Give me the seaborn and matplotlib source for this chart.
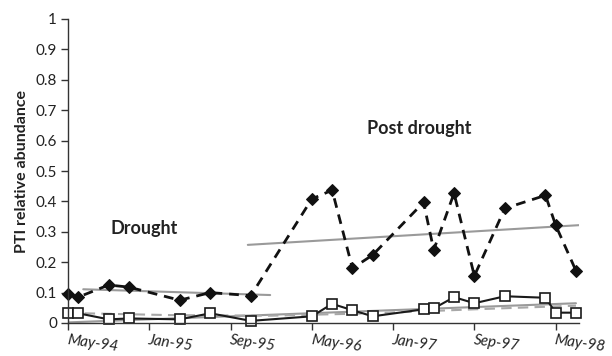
import matplotlib
matplotlib.use("Agg")
import matplotlib.pyplot as plt
import seaborn as sns
import pandas as pd
import numpy as np

# ---- data (months since May-94) ----
months = [0, 1, 4, 6, 11, 14, 18, 24, 26, 28, 30, 35, 36, 38, 40, 43, 47, 48, 50]
pti_diamond = [0.095, 0.085, 0.125, 0.118, 0.075, 0.100, 0.090, 0.408, 0.437, 0.180,
               0.224, 0.397, 0.240, 0.427, 0.155, 0.377, 0.420, 0.322, 0.172]
pti_square = [0.033, 0.032, 0.012, 0.015, 0.012, 0.032, 0.007, 0.022, 0.063, 0.042,
              0.022, 0.045, 0.048, 0.085, 0.065, 0.088, 0.083, 0.034, 0.034]

# trend lines
trend_drought_x = [1.5, 19.9]
trend_drought_y = [0.111, 0.092]
trend_post_x = [17.7, 50.4]
trend_post_y = [0.257, 0.322]
trend_sq_x = [0, 50]
trend_sq_y = [0.002, 0.065]
trend_sq2_x = [0, 10, 20, 30, 40, 50]
trend_sq2_y = [0.033, 0.026, 0.024, 0.032, 0.045, 0.057]

tick_months = [0, 8, 16, 24, 32, 40, 48]
tick_labels = ["May-94", "Jan-95", "Sep-95", "May-96", "Jan-97", "Sep-97", "May-98"]
y_ticks = [0, 0.1, 0.2, 0.3, 0.4, 0.5, 0.6, 0.7, 0.8, 0.9, 1]

sns.set_style("white")
plt.rcParams['font.family'] = ['Lato', 'DejaVu Sans']

fig = plt.figure(figsize=(6.12, 3.56), dpi=100)
ax = fig.add_axes([68/612, 1-323/356, (579-68)/612, (323-19)/356])

df = pd.DataFrame({"month": months, "diamond": pti_diamond, "square": pti_square})

# trend lines
sns.lineplot(x=trend_sq_x, y=trend_sq_y, ax=ax, color="#9a9a9a", lw=1.5)
sns.lineplot(x=trend_sq2_x, y=trend_sq2_y, ax=ax, color="#a8a8a8", lw=1.5,
             linestyle=(0, (5, 3)))
sns.lineplot(x=trend_drought_x, y=trend_drought_y, ax=ax, color="#9a9a9a", lw=1.5)
sns.lineplot(x=trend_post_x, y=trend_post_y, ax=ax, color="#9a9a9a", lw=1.5)

# series
sns.lineplot(data=df, x="month", y="square", ax=ax, color="#1a1a1a", lw=1.5,
             marker="s", markersize=7.5, markerfacecolor="white",
             markeredgecolor="#1a1a1a", markeredgewidth=1.2, clip_on=False)
sns.lineplot(data=df, x="month", y="diamond", ax=ax, color="#111111", lw=2.0,
             linestyle=(0, (3.5, 2.5)), marker="D", markersize=6,
             markerfacecolor="#111111", markeredgecolor="#111111", clip_on=False)

ax.set_xlim(0, 50.3)
ax.set_ylim(0, 1)
ax.set_yticks(y_ticks)
ax.set_yticklabels([f"{v:g}" for v in y_ticks], fontsize=11, color="#222222")
ax.set_xticks(tick_months)
ax.set_xticklabels(tick_labels, fontsize=11, style="italic", rotation=-8,
                   ha="left", va="top", rotation_mode="anchor", color="#222222")
ax.tick_params(axis="both", direction="out", length=5, width=1, color="#333333",
               left=True, bottom=True, pad=3)
ax.tick_params(axis="x", pad=2)
ax.set_xlabel("")
ax.set_ylabel("PTI relative abundance", fontsize=11.5, fontweight="bold", color="#222222",
              labelpad=5)

for s in ["top", "right"]:
    ax.spines[s].set_visible(False)
for s in ["left", "bottom"]:
    ax.spines[s].set_color("#333333")
    ax.spines[s].set_linewidth(1.0)

ax.text(7.5, 0.312, "Drought", fontsize=13, fontweight="bold", ha="center", va="center",
        color="#222222")
ax.text(34.6, 0.641, "Post drought", fontsize=13, fontweight="bold", ha="center",
        va="center", color="#222222")

fig.savefig("out.png", dpi=100)
